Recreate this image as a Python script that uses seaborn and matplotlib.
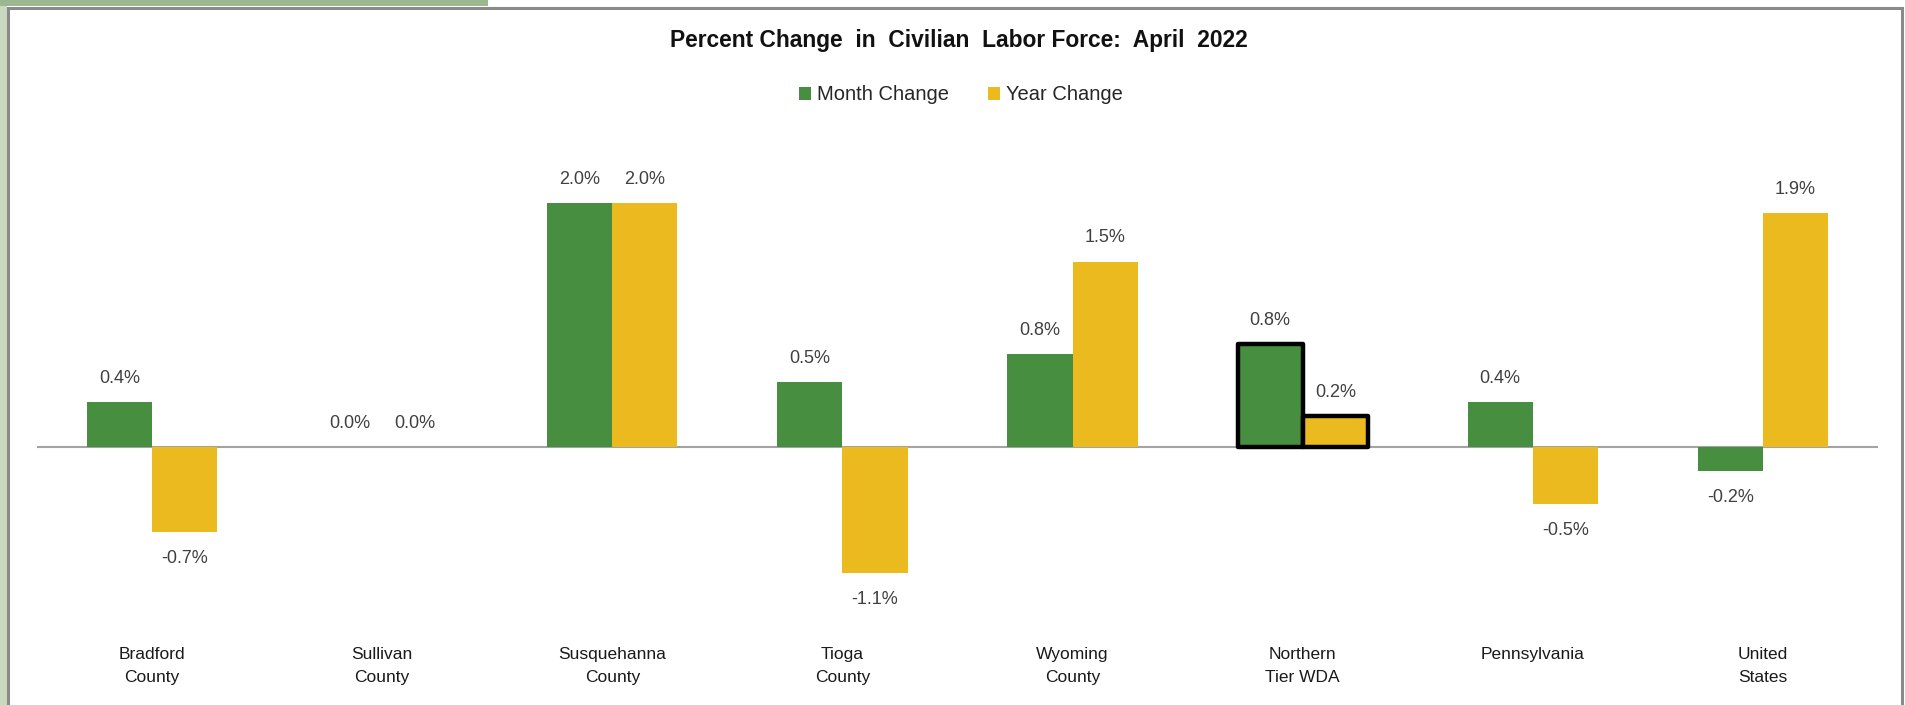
import matplotlib
matplotlib.use("Agg")
import matplotlib.pyplot as plt
from matplotlib.patches import Patch, Rectangle
import pandas as pd
import seaborn as sns

# data (bar heights) and the printed labels
regions = ["Bradford\nCounty", "Sullivan\nCounty", "Susquehanna\nCounty", "Tioga\nCounty",
           "Wyoming\nCounty", "Northern\nTier WDA", "Pennsylvania", "United\nStates"]
month_change = [0.37, 0.0, 2.0, 0.53, 0.76, 0.84, 0.37, -0.2]
year_change = [-0.70, 0.0, 2.0, -1.03, 1.52, 0.25, -0.47, 1.92]
month_labels = ["0.4%", "0.0%", "2.0%", "0.5%", "0.8%", "0.8%", "0.4%", "-0.2%"]
year_labels = ["-0.7%", "0.0%", "2.0%", "-1.1%", "1.5%", "0.2%", "-0.5%", "1.9%"]
series = ["Month Change", "Year Change"]
highlight = "Northern\nTier WDA"

GREEN = "#478E41"
YELLOW = "#EBBA1F"

sns.set_style("white")
plt.rcParams["font.family"] = ["Liberation Sans", "DejaVu Sans"]

df = pd.DataFrame({
    "region": regions * 2,
    "series": [series[0]] * len(regions) + [series[1]] * len(regions),
    "value": month_change + year_change,
})

W, H = 1906, 705
fig = plt.figure(figsize=(W / 100, H / 100), dpi=100)

# green slide background + grey chart frame
fig.patches.append(Rectangle((0, 0), 7 / W, 1, transform=fig.transFigure,
                             facecolor="#c9d9c0", edgecolor="none", zorder=0))
fig.patches.append(Rectangle((0, 1 - 6 / H), 488 / W, 6 / H, transform=fig.transFigure,
                             facecolor="#9cb890", edgecolor="none", zorder=0))
fig.patches.append(Rectangle((8.5 / W, -0.1), (1902 - 8.5) / W, 1.1 - 7.5 / H,
                             transform=fig.transFigure, facecolor="none",
                             edgecolor="#8a8a8a", linewidth=2.2, zorder=1))

ax = fig.add_axes([37 / W, 75 / H, 1841 / W, 510 / H])
sns.barplot(data=df, x="region", y="value", hue="series", order=regions,
            hue_order=series, palette=[GREEN, YELLOW], saturation=1,
            width=0.566, linewidth=0, edgecolor="none", legend=False, ax=ax)

ax.set_xlim(-0.5, len(regions) - 0.5)
ax.set_ylim(-1.5, 2.68)
ax.axhline(0, color="#a3a3a3", lw=1.5, zorder=1)
for s in ax.spines.values():
    s.set_visible(False)
ax.set_yticks([])
ax.set_xlabel("")
ax.set_ylabel("")
ax.tick_params(axis="x", length=0, pad=12, labelsize=12.5, labelcolor="#1a1a1a")
for t in ax.get_xticklabels():
    t.set_linespacing(1.68)
    t.set_verticalalignment("top")

hi = regions.index(highlight)
for cont, labels in zip(ax.containers, [month_labels, year_labels]):
    for i, (bar, lab) in enumerate(zip(cont, labels)):
        bar.set_zorder(2)
        if i == hi:
            bar.set_edgecolor("black")
            bar.set_linewidth(3.2)
            bar.set_joinstyle("round")
        x = bar.get_x() + bar.get_width() / 2
        h = bar.get_height()
        if h < 0:
            off = -19
        else:
            off = 17
        ax.annotate(lab, (x, h), xytext=(0, off), textcoords="offset points",
                    ha="center", va="center", fontsize=13, color="#404040")

fig.text(959 / W, 1 - 40 / H, "Percent Change  in  Civilian  Labor Force:  April  2022",
         ha="center", va="center", fontsize=16.4, fontweight="bold", color="#111111")

handles = [Patch(facecolor=GREEN, edgecolor="none"), Patch(facecolor=YELLOW, edgecolor="none")]
fig.legend(handles, series, loc="center", bbox_to_anchor=(961 / W, 1 - 95 / H),
           ncol=2, frameon=False, fontsize=14.5, handlelength=0.6, handleheight=0.6,
           handletextpad=0.3, columnspacing=1.9, labelcolor="#262626")

fig.savefig("out.png", dpi=100)
